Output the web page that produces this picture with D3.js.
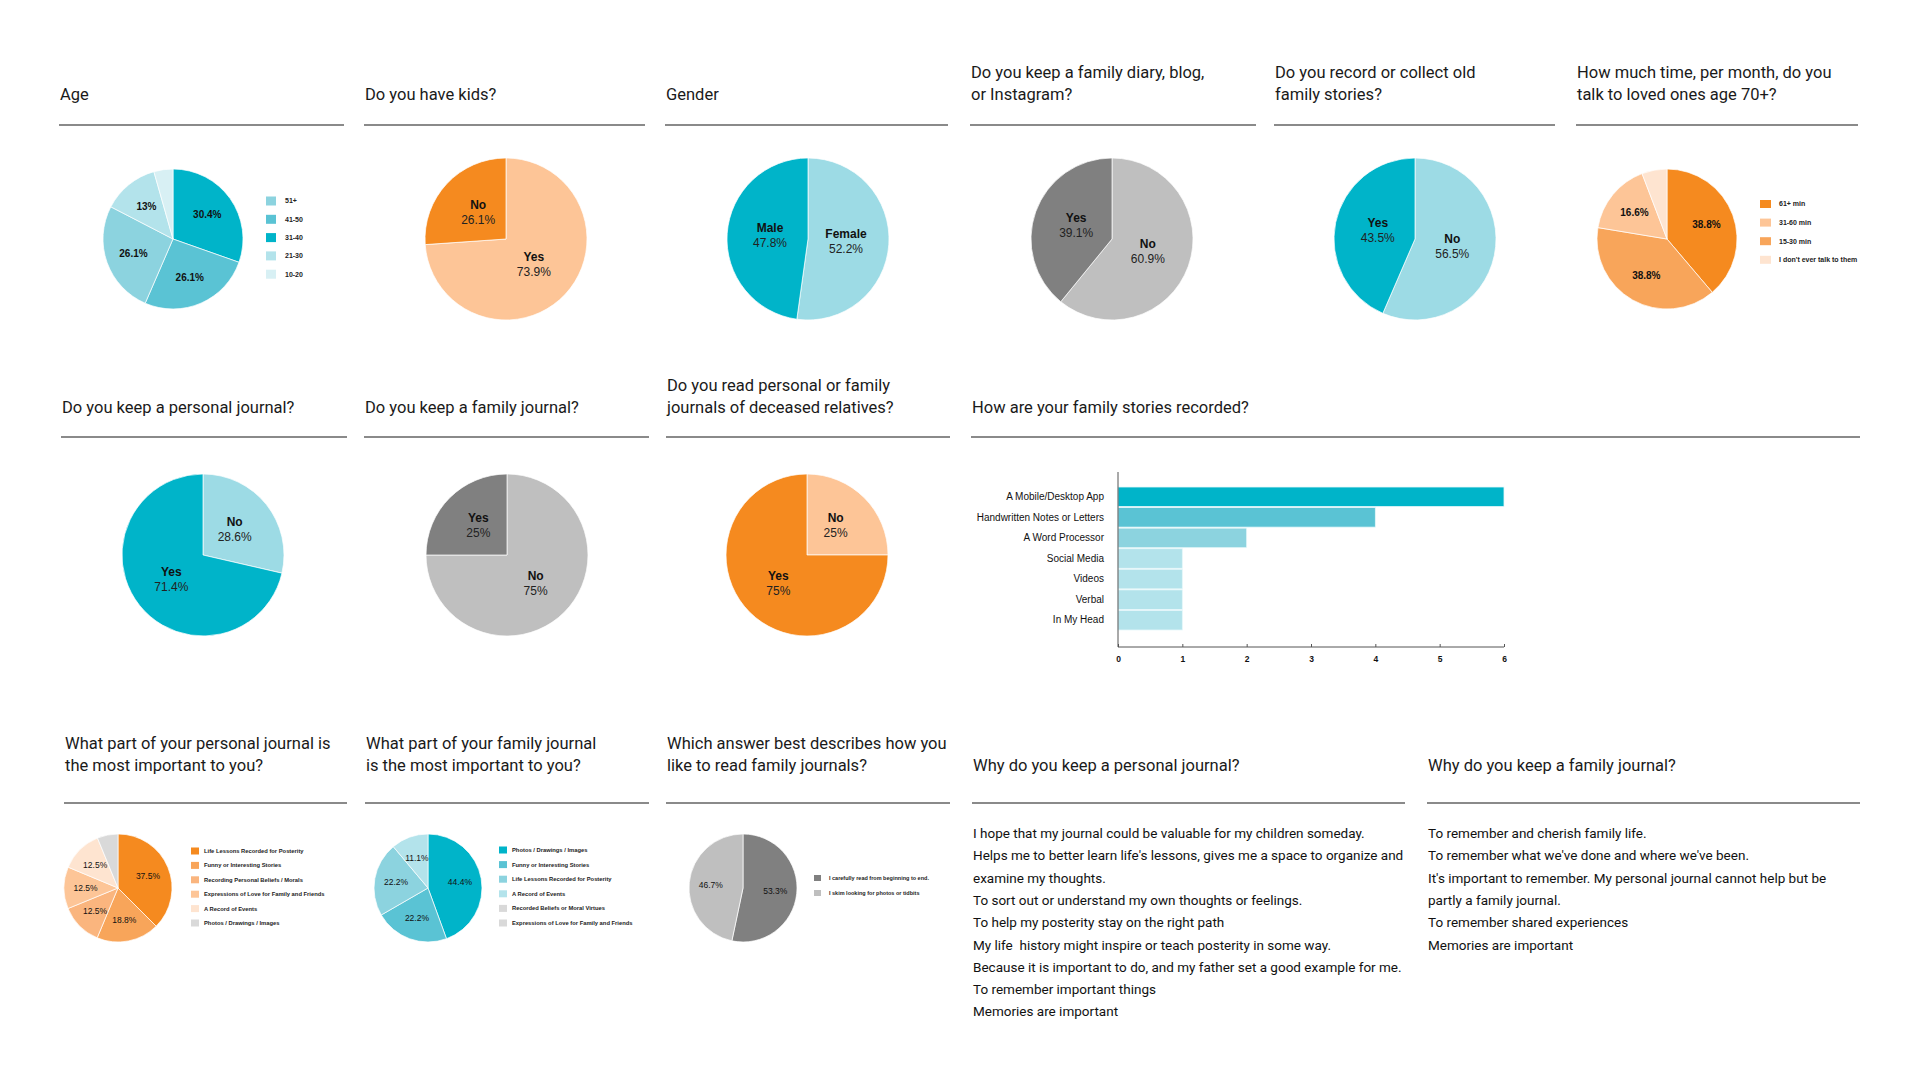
<!DOCTYPE html>
<html>
<head>
<meta charset="utf-8">
<script src="https://cdn.jsdelivr.net/npm/d3@7"></script>
<style>
  body { margin: 0; background: #fff; }
  svg { display: block; }
</style>
</head>
<body>
<div id="chart"></div>
<script>
// survey answers (slices listed clockwise from 12 o'clock)

const ageCats = ["31-40", "41-50", "51+", "21-30", "10-20"];
const ageValues = [30.4, 26.1, 26.1, 13, 4.4];
const ageLegend = ["51+", "41-50", "31-40", "21-30", "10-20"];

const kidsCats = ["Yes", "No"];
const kidsValues = [73.9, 26.1];

const genderCats = ["Female", "Male"];
const genderValues = [52.2, 47.8];

const diaryCats = ["No", "Yes"];
const diaryValues = [60.9, 39.1];

const storiesCats = ["No", "Yes"];
const storiesValues = [56.5, 43.5];

const timeCats = ["61+ min", "15-30 min", "31-60 min", "I don't ever talk to them"];
const timeValues = [38.8, 38.8, 16.6, 5.8];
const timeLegend = ["61+ min", "31-60 min", "15-30 min", "I don't ever talk to them"];

const personalCats = ["No", "Yes"];
const personalValues = [28.6, 71.4];

const familyCats = ["No", "Yes"];
const familyValues = [75, 25];

const deceasedCats = ["No", "Yes"];
const deceasedValues = [25, 75];

const recordedCats = ["A Mobile/Desktop App", "Handwritten Notes or Letters", "A Word Processor",
                      "Social Media", "Videos", "Verbal", "In My Head"];
const recordedValues = [6, 4, 2, 1, 1, 1, 1];
const recordedTicks = [0, 1, 2, 3, 4, 5, 6];

const partPersonalCats = ["Life Lessons Recorded for Posterity", "Funny or Interesting Stories",
  "Recording Personal Beliefs / Morals", "Expressions of Love for Family and Friends",
  "A Record of Events", "Photos / Drawings / Images"];
const partPersonalValues = [37.5, 18.8, 12.5, 12.5, 12.5, 6.2];

const partFamilyCats = ["Photos / Drawings / Images", "Funny or Interesting Stories",
  "Life Lessons Recorded for Posterity", "A Record of Events",
  "Recorded Beliefs or Moral Virtues", "Expressions of Love for Family and Friends"];
const partFamilyValues = [44.4, 22.2, 22.2, 11.1, 0, 0];

const readCats = ["I carefully read from beginning to end.", "I skim looking for photos or tidbits"];
const readValues = [53.3, 46.7];

const whyPersonal = [
  "I hope that my journal could be valuable for my children someday.",
  "Helps me to better learn life's lessons, gives me a space to organize and",
  "examine my thoughts.",
  "To sort out or understand my own thoughts or feelings.",
  "To help my posterity stay on the right path",
  "My life  history might inspire or teach posterity in some way.",
  "Because it is important to do, and my father set a good example for me.",
  "To remember important things",
  "Memories are important"
];
const whyFamily = [
  "To remember and cherish family life.",
  "To remember what we've done and where we've been.",
  "It's important to remember. My personal journal cannot help but be",
  "partly a family journal.",
  "To remember shared experiences",
  "Memories are important"
];

const row1Titles = [["Age"], ["Do you have kids?"], ["Gender"],
  ["Do you keep a family diary, blog,", "or Instagram?"],
  ["Do you record or collect old", "family stories?"],
  ["How much time, per month, do you", "talk to loved ones age 70+?"]];
const row2Titles = [["Do you keep a personal journal?"], ["Do you keep a family journal?"],
  ["Do you read personal or family", "journals of deceased relatives?"],
  ["How are your family stories recorded?"]];
const row3Titles = [["What part of your personal journal is", "the most important to you?"],
  ["What part of your family journal", "is the most important to you?"],
  ["Which answer best describes how you", "like to read family journals?"],
  ["Why do you keep a personal journal?"], ["Why do you keep a family journal?"]];

// ---------- colours ----------
const teal = "#00b4c9", teal2 = "#5ac3d4", teal3 = "#8cd3df", teal4 = "#b3e3eb", teal5 = "#d8f0f4";
const tealSoft = "#9ddbe5";
const orange = "#f58a1f", orange2 = "#f8a55a", orange3 = "#fab57e", orange4 = "#fdc597", orange5 = "#fee4d0";
const grayDark = "#808080", grayLight = "#bfbfbf", grayPale = "#d9d9d9";

const W = 1920, H = 1069;
const svg = d3.select("#chart").append("svg")
  .attr("width", W).attr("height", H)
  .style("background", "#fff");

const titleFont = "Roboto, 'Open Sans', sans-serif";
const chartFont = "'Liberation Sans', Arial, sans-serif";

// ---------- titles + grey rules ----------
function drawTitles(titles, xs, x2s, baseline, ruleY) {
  titles.forEach((lines, i) => {
    const t = svg.append("text")
      .attr("x", xs[i])
      .attr("y", baseline - (lines.length - 1) * 22)
      .style("font-family", titleFont)
      .style("font-size", "16.5px")
      .style("fill", "#1a1a1a");
    lines.forEach((ln, j) => {
      t.append("tspan").attr("x", xs[i]).attr("dy", j === 0 ? 0 : 22).text(ln);
    });
    svg.append("line")
      .attr("x1", xs[i] - 1).attr("x2", x2s[i])
      .attr("y1", ruleY).attr("y2", ruleY)
      .style("stroke", "#8a8a8a")
      .style("stroke-width", 2);
  });
}

drawTitles(row1Titles, [60, 365, 666, 971, 1275, 1577], [344, 645, 948, 1256, 1555, 1858], 100, 125);
drawTitles(row2Titles, [62, 365, 667, 972], [347, 649, 950, 1860], 413, 437);
drawTitles(row3Titles, [65, 366, 667, 973, 1428], [347, 649, 950, 1405, 1860], 771, 803);

// ---------- pies ----------
function drawPie(o) {
  const pie = d3.pie().sort(null).value(d => d.v);
  const data = pie(o.cats.map((c, i) => ({ c: c, v: o.values[i] })));
  const arc = d3.arc().innerRadius(0).outerRadius(o.r);
  const labelArc = d3.arc().innerRadius(o.r * o.lr).outerRadius(o.r * o.lr);

  const g = svg.append("g").attr("transform", `translate(${o.cx},${o.cy})`);

  g.selectAll("path")
    .data(data.filter(d => d.data.v > 0))
    .enter()
    .append("path")
    .attr("d", arc)
    .style("fill", d => o.color[d.data.c])
    .style("stroke", "#fff")
    .style("stroke-width", 0.7);

  const labelled = data.filter(d => d.data.v >= (o.minLabel || 0));
  labelled.forEach(d => {
    const [lx, ly] = labelArc.centroid(d);
    if (o.twoLine) {
      g.append("text")
        .attr("x", lx).attr("y", ly - 4)
        .attr("text-anchor", "middle")
        .style("font-family", chartFont)
        .style("font-weight", "bold")
        .style("font-size", o.fs + "px")
        .style("fill", "#111")
        .text(d.data.c);
      g.append("text")
        .attr("x", lx).attr("y", ly + 11)
        .attr("text-anchor", "middle")
        .style("font-family", chartFont)
        .style("font-size", o.fs + "px")
        .style("fill", "#222")
        .text(d.data.v + "%");
    } else {
      g.append("text")
        .attr("x", lx).attr("y", ly)
        .attr("dy", "0.35em")
        .attr("text-anchor", "middle")
        .style("font-family", chartFont)
        .style("font-weight", o.bold ? "bold" : "normal")
        .style("font-size", o.fs + "px")
        .style("fill", "#111")
        .text(d.data.v + "%");
    }
  });

  if (o.legend) {
    const L = o.legend;
    const lg = svg.append("g");
    L.items.forEach((name, i) => {
      const cy = L.y + i * L.step;
      lg.append("rect")
        .attr("x", L.x).attr("y", cy - L.sh / 2)
        .attr("width", L.sw).attr("height", L.sh)
        .style("fill", o.color[name]);
      lg.append("text")
        .attr("x", L.x + L.gap).attr("y", cy)
        .attr("dy", "0.35em")
        .style("font-family", chartFont)
        .style("font-weight", "bold")
        .style("font-size", L.fs + "px")
        .style("fill", "#222")
        .text(name);
    });
  }
}

// row 1
drawPie({ cx: 173, cy: 239, r: 70, lr: 0.6, fs: 10, bold: true, minLabel: 10,
  cats: ageCats, values: ageValues,
  color: { "31-40": teal, "41-50": teal2, "51+": teal3, "21-30": teal4, "10-20": teal5 },
  legend: { items: ageLegend, x: 266, y: 201, step: 18.3, sw: 10, sh: 9, gap: 19, fs: 7 } });

drawPie({ cx: 506, cy: 239, r: 81, lr: 0.47, fs: 12, twoLine: true,
  cats: kidsCats, values: kidsValues, color: { Yes: orange4, No: orange } });

drawPie({ cx: 808, cy: 239, r: 81, lr: 0.47, fs: 12, twoLine: true,
  cats: genderCats, values: genderValues, color: { Female: tealSoft, Male: teal } });

drawPie({ cx: 1112, cy: 239, r: 81, lr: 0.47, fs: 12, twoLine: true,
  cats: diaryCats, values: diaryValues, color: { No: grayLight, Yes: grayDark } });

drawPie({ cx: 1415, cy: 239, r: 81, lr: 0.47, fs: 12, twoLine: true,
  cats: storiesCats, values: storiesValues, color: { No: tealSoft, Yes: teal } });

drawPie({ cx: 1667, cy: 239, r: 70, lr: 0.6, fs: 10, bold: true, minLabel: 10,
  cats: timeCats, values: timeValues,
  color: { "61+ min": orange, "15-30 min": orange2, "31-60 min": orange4, "I don't ever talk to them": orange5 },
  legend: { items: timeLegend, x: 1760, y: 204, step: 18.6, sw: 11, sh: 8, gap: 19, fs: 7 } });

// row 2
drawPie({ cx: 203, cy: 555, r: 81, lr: 0.5, fs: 12, twoLine: true,
  cats: personalCats, values: personalValues, color: { No: tealSoft, Yes: teal } });

drawPie({ cx: 507, cy: 555, r: 81, lr: 0.5, fs: 12, twoLine: true,
  cats: familyCats, values: familyValues, color: { No: grayLight, Yes: grayDark } });

drawPie({ cx: 807, cy: 555, r: 81, lr: 0.5, fs: 12, twoLine: true,
  cats: deceasedCats, values: deceasedValues, color: { No: orange4, Yes: orange } });

// row 3
drawPie({ cx: 118, cy: 888, r: 54, lr: 0.6, fs: 8.5, minLabel: 10,
  cats: partPersonalCats, values: partPersonalValues,
  color: { "Life Lessons Recorded for Posterity": orange, "Funny or Interesting Stories": orange2,
    "Recording Personal Beliefs / Morals": orange3, "Expressions of Love for Family and Friends": orange4,
    "A Record of Events": orange5, "Photos / Drawings / Images": grayPale },
  legend: { items: partPersonalCats, x: 191, y: 851, step: 14.4, sw: 8, sh: 7, gap: 13, fs: 5.8 } });

drawPie({ cx: 428, cy: 888, r: 54, lr: 0.6, fs: 8.5, minLabel: 10,
  cats: partFamilyCats, values: partFamilyValues,
  color: { "Photos / Drawings / Images": teal, "Funny or Interesting Stories": teal2,
    "Life Lessons Recorded for Posterity": teal3, "A Record of Events": teal4,
    "Recorded Beliefs or Moral Virtues": grayPale, "Expressions of Love for Family and Friends": grayPale },
  legend: { items: partFamilyCats, x: 499, y: 850, step: 14.6, sw: 8, sh: 7, gap: 13, fs: 5.8 } });

drawPie({ cx: 743, cy: 888, r: 54, lr: 0.6, fs: 8.5, minLabel: 10,
  cats: readCats, values: readValues,
  color: { "I carefully read from beginning to end.": grayDark, "I skim looking for photos or tidbits": grayLight },
  legend: { items: readCats, x: 814, y: 878, step: 15, sw: 7, sh: 6, gap: 15, fs: 5.5 } });

// ---------- bar chart: How are your family stories recorded? ----------
const barColor = {
  "A Mobile/Desktop App": teal, "Handwritten Notes or Letters": teal2, "A Word Processor": teal3
};
const x = d3.scaleLinear().domain([0, 6]).range([1118, 1504]);
const y = d3.scaleBand().domain(recordedCats).range([487, 630]).paddingInner(0.05);

svg.append("g")
  .selectAll("rect")
  .data(recordedCats)
  .enter()
  .append("rect")
  .attr("x", x(0))
  .attr("y", d => y(d))
  .attr("width", (d, i) => x(recordedValues[i]) - x(0))
  .attr("height", y.bandwidth())
  .style("fill", d => barColor[d] || teal4)
  .style("stroke", "#e6f7fa")
  .style("stroke-width", 0.8);

const xAxis = svg.append("g")
  .attr("transform", "translate(0,647)")
  .call(d3.axisBottom(x).tickValues(recordedTicks).tickFormat(d3.format("d")).tickSize(-3).tickPadding(9));
xAxis.select(".domain").attr("d", `M${x(0)},0H${x(6)}`).style("stroke", "#555");
xAxis.selectAll(".tick line").style("stroke", "#555");
xAxis.selectAll("text")
  .style("font-family", chartFont)
  .style("font-weight", "bold")
  .style("font-size", "8.5px")
  .style("fill", "#111");

const yAxis = svg.append("g")
  .attr("transform", `translate(${x(0)},0)`)
  .call(d3.axisLeft(y).tickSize(0).tickPadding(14));
yAxis.select(".domain").attr("d", "M0,472V647").style("stroke", "#555");
yAxis.selectAll("text")
  .style("font-family", chartFont)
  .style("font-size", "10px")
  .style("fill", "#111");

// ---------- free text answers ----------
function drawLines(lines, x0, y0) {
  svg.append("g")
    .selectAll("text")
    .data(lines)
    .enter()
    .append("text")
    .attr("x", x0)
    .attr("y", (d, i) => y0 + i * 22.3)
    .style("font-family", titleFont)
    .style("font-size", "13.5px")
    .style("fill", "#111")
    .style("white-space", "pre")
    .text(d => d);
}
drawLines(whyPersonal, 973, 838);
drawLines(whyFamily, 1428, 838);
</script>
</body>
</html>
